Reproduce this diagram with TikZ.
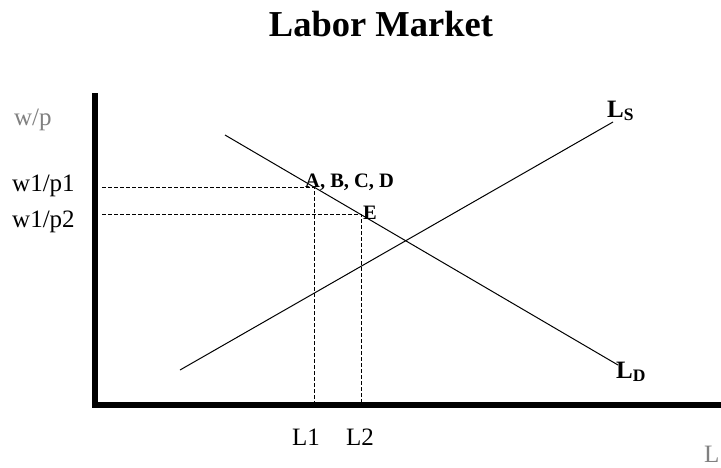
\documentclass[tikz,border=0pt]{standalone}
\usepackage{fontspec}
\setmainfont{Liberation Serif}
\usetikzlibrary{positioning}

\begin{document}
\begin{tikzpicture}[x=1pt,y=-1pt,
    axis/.style={line width=6pt},
    curve/.style={line width=1pt},
    guide/.style={line width=0.8pt, dash pattern=on 4pt off 2pt},
    lbl/.style={font=\fontsize{25}{29}\selectfont, anchor=base west, inner sep=0pt},
    pt/.style={font=\bfseries\fontsize{20.5}{24}\selectfont, anchor=base west, inner sep=0pt},
    crv/.style={font=\bfseries\fontsize{25}{29}\selectfont, anchor=base west, inner sep=0pt}
]
\useasboundingbox (0,0) rectangle (721,467);

% Title
\node[font=\bfseries\fontsize{36.5}{40}\selectfont, anchor=base] (title) at (381,36) {Labor Market};

% Axes
\coordinate (top) at (95,93);
\coordinate (origin) at (95,405);
\coordinate (right) at (721,405);
\draw[axis] (top) -- (origin |- 0,408);
\draw[axis] (92,405) -- (right);

% Curves
\coordinate (ld0) at (225,135);
\coordinate (ld1) at (618,365);
\coordinate (ls0) at (180,370);
\coordinate (ls1) at (613,122);
\draw[curve] (ld0) -- (ld1);
\draw[curve] (ls0) -- (ls1);

% Points
\coordinate (p1) at (314,187);
\coordinate (p2) at (361,214);

% Guides
\draw[guide] (102,187) -- (p1) -- (p1 |- origin);
\draw[guide] (102,214) -- (p2) -- (p2 |- origin);

% Labels
\node[lbl, text=gray] (wp) at (14,125) {w/p};
\node[lbl] (w1) at (12,191) {w1/p1};
\node[lbl] (w2) at (12,227) {w1/p2};
\node[lbl] (l1) at (292,445) {L1};
\node[lbl] (l2) at (346,445) {L2};
\node[lbl, text=gray] (lax) at (704,462) {L};
\node[pt] (abcd) at (305,187) {A, B, C, D};
\node[pt] (e) at (363,219) {E};
\node[crv] (lsl) at (607,117) {L\textsubscript{S}};
\node[crv] (ldl) at (616,378) {L\textsubscript{D}};

\end{tikzpicture}
\end{document}
